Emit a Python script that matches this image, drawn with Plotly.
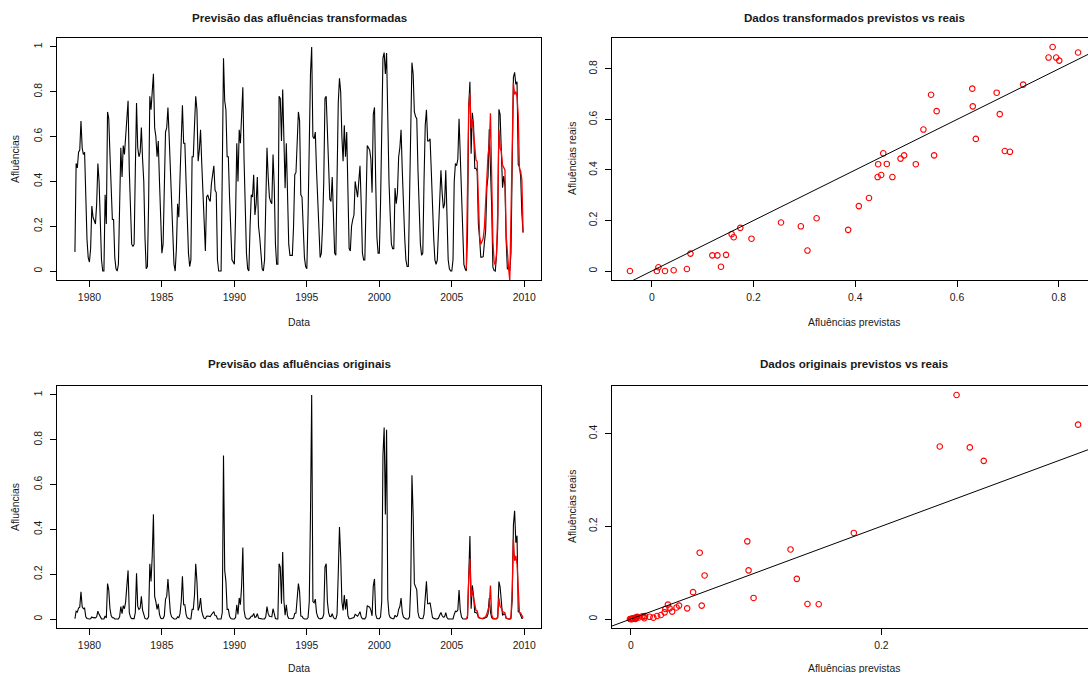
import numpy as np
import plotly.graph_objects as go

START_YEAR = 1979

# Monthly inflows on the transformed scale, Jan 1979 - Dec 2005 (one row per year)
afl_transf_hist = [
    0.085, 0.48, 0.46, 0.53, 0.54, 0.67, 0.55, 0.52, 0.53, 0.30, 0.14, 0.06,
    0.04, 0.10, 0.29, 0.24, 0.22, 0.21, 0.30, 0.48, 0.40, 0.24, 0.05, 0.00,
    0.00, 0.34, 0.21, 0.71, 0.68, 0.52, 0.36, 0.23, 0.23, 0.06, 0.01, 0.00,
    0.03, 0.30, 0.55, 0.42, 0.56, 0.52, 0.60, 0.70, 0.76, 0.45, 0.28, 0.12,
    0.11, 0.12, 0.45, 0.75, 0.55, 0.51, 0.53, 0.64, 0.50, 0.40, 0.15, 0.01,
    0.02, 0.30, 0.78, 0.72, 0.80, 0.88, 0.64, 0.60, 0.51, 0.58, 0.40, 0.20,
    0.08, 0.12, 0.35, 0.62, 0.64, 0.73, 0.60, 0.45, 0.30, 0.15, 0.03, 0.00,
    0.10, 0.30, 0.24, 0.42, 0.60, 0.74, 0.57, 0.57, 0.40, 0.22, 0.08, 0.02,
    0.05, 0.51, 0.51, 0.65, 0.78, 0.72, 0.49, 0.54, 0.63, 0.48, 0.35, 0.15,
    0.09, 0.33, 0.34, 0.32, 0.31, 0.39, 0.44, 0.47, 0.36, 0.35, 0.05, 0.00,
    0.00, 0.00, 0.45, 0.95, 0.76, 0.72, 0.51, 0.51, 0.33, 0.15, 0.05, 0.04,
    0.03, 0.25, 0.57, 0.40, 0.63, 0.57, 0.70, 0.82, 0.50, 0.28, 0.08, 0.01,
    0.00, 0.20, 0.34, 0.33, 0.43, 0.25, 0.30, 0.42, 0.20, 0.15, 0.05, 0.01,
    0.00, 0.05, 0.30, 0.55, 0.42, 0.33, 0.31, 0.30, 0.52, 0.38, 0.12, 0.03,
    0.03, 0.78, 0.77, 0.58, 0.81, 0.61, 0.37, 0.57, 0.35, 0.12, 0.07, 0.07,
    0.07, 0.20, 0.43, 0.44, 0.60, 0.71, 0.67, 0.34, 0.33, 0.15, 0.06, 0.02,
    0.01, 0.25, 0.60, 0.88, 1.00, 0.60, 0.59, 0.62, 0.45, 0.30, 0.12, 0.06,
    0.08, 0.20, 0.40, 0.77, 0.78, 0.60, 0.45, 0.32, 0.31, 0.42, 0.25, 0.08,
    0.07, 0.40, 0.75, 0.86, 0.80, 0.60, 0.49, 0.65, 0.51, 0.62, 0.35, 0.10,
    0.09, 0.20, 0.23, 0.25, 0.40, 0.36, 0.33, 0.40, 0.47, 0.30, 0.08, 0.05,
    0.05, 0.30, 0.56, 0.55, 0.54, 0.50, 0.35, 0.70, 0.73, 0.40, 0.15, 0.08,
    0.08, 0.30, 0.60, 0.95, 0.975, 0.88, 0.973, 0.62, 0.40, 0.25, 0.12, 0.10,
    0.10, 0.37, 0.30, 0.35, 0.51, 0.55, 0.63, 0.45, 0.28, 0.15, 0.05, 0.02,
    0.02, 0.30, 0.70, 0.93, 0.88, 0.71, 0.69, 0.68, 0.45, 0.25, 0.12, 0.07,
    0.08, 0.40, 0.65, 0.72, 0.58, 0.58, 0.59, 0.45, 0.25, 0.15, 0.05, 0.03,
    0.05, 0.20, 0.38, 0.45, 0.35, 0.28, 0.30, 0.45, 0.25, 0.05, 0.01, 0.00,
    0.00, 0.05, 0.40, 0.48, 0.47, 0.50, 0.68, 0.50, 0.30, 0.10, 0.03, 0.01,
]

# Monthly inflows on the original scale, Jan 1979 - Dec 2005
afl_orig_hist = [
    0.0013, 0.035, 0.031, 0.049, 0.053, 0.122, 0.056, 0.046, 0.049, 0.010, 0.0026, 0.0008,
    0.0005, 0.0016, 0.0093, 0.0063, 0.0054, 0.005, 0.010, 0.035, 0.021, 0.0063, 0.0007, 0.0,
    0.0, 0.0135, 0.005, 0.158, 0.130, 0.046, 0.0155, 0.0058, 0.0058, 0.0008, 0.0001, 0.0,
    0.0004, 0.010, 0.056, 0.024, 0.060, 0.046, 0.078, 0.148, 0.217, 0.029, 0.0087, 0.002,
    0.0018, 0.002, 0.029, 0.204, 0.056, 0.043, 0.049, 0.101, 0.040, 0.021, 0.0029, 0.0001,
    0.0002, 0.010, 0.247, 0.168, 0.281, 0.467, 0.101, 0.078, 0.043, 0.068, 0.021, 0.0045,
    0.0012, 0.002, 0.0145, 0.089, 0.101, 0.179, 0.078, 0.029, 0.010, 0.0029, 0.0004, 0.0,
    0.0016, 0.010, 0.0063, 0.024, 0.078, 0.191, 0.064, 0.064, 0.021, 0.0054, 0.0012, 0.0002,
    0.0007, 0.043, 0.043, 0.107, 0.247, 0.168, 0.038, 0.053, 0.094, 0.035, 0.0145, 0.0029,
    0.0014, 0.0126, 0.0135, 0.0117, 0.011, 0.019, 0.027, 0.033, 0.0155, 0.0145, 0.0007, 0.0,
    0.0, 0.0, 0.029, 0.730, 0.217, 0.168, 0.043, 0.043, 0.0126, 0.0029, 0.0007, 0.0005,
    0.0004, 0.0068, 0.064, 0.021, 0.094, 0.064, 0.148, 0.319, 0.040, 0.0087, 0.0012, 0.0001,
    0.0, 0.0045, 0.0135, 0.0126, 0.025, 0.0068, 0.010, 0.024, 0.0045, 0.0029, 0.0007, 0.0001,
    0.0, 0.0007, 0.010, 0.056, 0.024, 0.0126, 0.011, 0.010, 0.046, 0.018, 0.002, 0.0004,
    0.0004, 0.247, 0.232, 0.068, 0.299, 0.083, 0.017, 0.064, 0.0145, 0.002, 0.001, 0.001,
    0.001, 0.0045, 0.025, 0.027, 0.078, 0.158, 0.122, 0.0135, 0.0126, 0.0029, 0.0008, 0.0002,
    0.0001, 0.0068, 0.078, 0.467, 1.0, 0.078, 0.073, 0.089, 0.029, 0.010, 0.002, 0.0008,
    0.0012, 0.0045, 0.021, 0.232, 0.247, 0.078, 0.029, 0.0117, 0.011, 0.024, 0.0068, 0.0012,
    0.001, 0.021, 0.204, 0.411, 0.281, 0.078, 0.038, 0.107, 0.043, 0.089, 0.0145, 0.0016,
    0.0014, 0.0045, 0.0058, 0.0068, 0.021, 0.0155, 0.0126, 0.021, 0.033, 0.010, 0.0012, 0.0007,
    0.0007, 0.010, 0.060, 0.056, 0.053, 0.040, 0.0145, 0.148, 0.179, 0.021, 0.0029, 0.0012,
    0.0012, 0.010, 0.078, 0.730, 0.855, 0.467, 0.845, 0.089, 0.021, 0.0068, 0.002, 0.0016,
    0.0016, 0.017, 0.010, 0.0145, 0.043, 0.056, 0.094, 0.029, 0.0087, 0.0029, 0.0007, 0.0002,
    0.0002, 0.010, 0.148, 0.642, 0.467, 0.158, 0.139, 0.130, 0.029, 0.0068, 0.002, 0.001,
    0.0012, 0.021, 0.107, 0.168, 0.068, 0.068, 0.073, 0.029, 0.0068, 0.0029, 0.0007, 0.0004,
    0.0007, 0.0045, 0.018, 0.029, 0.0145, 0.0087, 0.010, 0.029, 0.0068, 0.0007, 0.0001, 0.0,
    0.0, 0.0007, 0.021, 0.035, 0.033, 0.040, 0.130, 0.040, 0.010, 0.0016, 0.0004, 0.0001,
]

# Test period Jan 2006 - Dec 2009: forecasts (previstas) and observed values (reais)
prev_transf = [
    0.010, 0.386, 0.730, 0.795, 0.637, 0.678, 0.631, 0.555, 0.496, 0.489, 0.324, 0.157,
    0.119, 0.129, 0.146, 0.196, 0.293, 0.444, 0.519, 0.560, 0.704, 0.427, 0.136, 0.043,
    0.026, 0.076, 0.254, 0.630, 0.549, 0.534, 0.473, 0.462, 0.451, 0.161, 0.069, 0.013,
    -0.043, 0.306, 0.684, 0.838, 0.788, 0.801, 0.780, 0.694, 0.455, 0.445, 0.407, 0.174,
]
real_transf = [
    0.000, 0.163, 0.738, 0.845, 0.523, 0.706, 0.652, 0.458, 0.458, 0.445, 0.209, 0.146,
    0.062, 0.062, 0.064, 0.128, 0.177, 0.372, 0.423, 0.633, 0.472, 0.289, 0.017, 0.003,
    0.000, 0.069, 0.192, 0.722, 0.698, 0.560, 0.372, 0.424, 0.380, 0.134, 0.008, 0.015,
    0.000, 0.081, 0.621, 0.865, 0.887, 0.833, 0.845, 0.475, 0.466, 0.423, 0.257, 0.171,
]
prev_orig = [
    0.0001, 0.015, 0.178, 0.2706, 0.098, 0.1275, 0.094, 0.0566, 0.0385, 0.0365, 0.0114, 0.0044,
    0.003, 0.0033, 0.004, 0.0064, 0.0103, 0.024, 0.045, 0.0589, 0.150, 0.021, 0.0036, 0.0008,
    0.0005, 0.0017, 0.0092, 0.093, 0.055, 0.0497, 0.033, 0.031, 0.0276, 0.0046, 0.0015, 0.0002,
    -0.0007, 0.0108, 0.1325, 0.357, 0.260, 0.2817, 0.2466, 0.141, 0.0296, 0.027, 0.018, 0.0052,
]
real_orig = [
    0.0, 0.0048, 0.1856, 0.370, 0.0455, 0.150, 0.105, 0.029, 0.029, 0.025, 0.0066, 0.004,
    0.0013, 0.0013, 0.0014, 0.0034, 0.0053, 0.0087, 0.023, 0.094, 0.0318, 0.0065, 0.0003, 0.0001,
    0.0, 0.0015, 0.006, 0.1675, 0.143, 0.058, 0.016, 0.023, 0.0217, 0.0036, 0.0002, 0.0002,
    0.0, 0.0018, 0.0866, 0.419, 0.483, 0.341, 0.372, 0.0325, 0.031, 0.0144, 0.003, 0.005,
]

year_ticks = [1980, 1985, 1990, 1995, 2000, 2005, 2010]
unit_ticks = [0, 0.2, 0.4, 0.6, 0.8, 1.0]
unit_labels = ["0", "0.2", "0.4", "0.6", "0.8", "1"]

# ---------------------------------------------------------------- geometry
W, H = 1088, 673
FONT = "Liberation Sans, Arial, Helvetica, sans-serif"
TXT = "#1a1a1a"
TICK_SIZE = 10.4
LAB_SIZE = 10.4
TITLE_SIZE = 11.6
BOX_L = (57, 541)      # left column plot box, px
BOX_R = (612, 1096)    # right column plot box (runs past the page edge)
ROW_T = (38, 280)      # top row plot box, px from top
ROW_B = (386, 628)     # bottom row plot box


def px_x(p):
    return p / W


def px_y(p):
    return 1 - p / H


def r_range(values, ext=0.04):
    lo, hi = float(np.min(values)), float(np.max(values))
    pad = (hi - lo) * ext
    return [lo - pad, hi + pad]


def visible_range(full):
    # part of the right-hand boxes that falls inside the page
    lo, hi = full
    frac = (W - BOX_R[0]) / (BOX_R[1] - BOX_R[0])
    return [lo, lo + (hi - lo) * frac]


serie_transf = np.array(afl_transf_hist + real_transf)
serie_orig = np.array(afl_orig_hist + real_orig)
tempo = START_YEAR + np.arange(len(serie_transf)) / 12.0
tempo_teste = tempo[len(afl_transf_hist):]

fig = go.Figure()

# top-left: transformed series with forecast
fig.add_trace(go.Scatter(x=tempo, y=serie_transf, mode="lines",
                         line=dict(color="black", width=1.1), xaxis="x", yaxis="y"))
fig.add_trace(go.Scatter(x=tempo_teste, y=prev_transf, mode="lines",
                         line=dict(color="#ff0000", width=1.3), xaxis="x", yaxis="y"))

# bottom-left: original series with forecast
fig.add_trace(go.Scatter(x=tempo, y=serie_orig, mode="lines",
                         line=dict(color="black", width=1.1), xaxis="x3", yaxis="y3"))
fig.add_trace(go.Scatter(x=tempo_teste, y=prev_orig, mode="lines",
                         line=dict(color="#ff0000", width=1.3), xaxis="x3", yaxis="y3"))

marker_style = dict(symbol="circle-open", size=5.5, color="#ff0000",
                    line=dict(width=1.1, color="#ff0000"))

# top-right: predicted vs observed (transformed)
xr2_full = r_range(prev_transf)
yr2 = r_range(real_transf)
fig.add_trace(go.Scatter(x=prev_transf, y=real_transf, mode="markers",
                         marker=marker_style, xaxis="x2", yaxis="y2"))
fig.add_trace(go.Scatter(x=xr2_full, y=xr2_full, mode="lines",
                         line=dict(color="black", width=1), xaxis="x2", yaxis="y2"))

# bottom-right: predicted vs observed (original)
xr4_full = r_range(prev_orig)
yr4 = r_range(real_orig)
fig.add_trace(go.Scatter(x=prev_orig, y=real_orig, mode="markers",
                         marker=marker_style, xaxis="x4", yaxis="y4"))
fig.add_trace(go.Scatter(x=xr4_full, y=xr4_full, mode="lines",
                         line=dict(color="black", width=1), xaxis="x4", yaxis="y4"))


def axis(domain, rng, tickvals, ticktext, mirror=True, vertical=False, anchor=None):
    d = dict(domain=domain, range=rng, tickvals=tickvals, ticktext=ticktext,
             showline=True, mirror=mirror, linecolor="black", linewidth=1,
             ticks="outside", ticklen=6, tickwidth=1, tickcolor="black",
             showgrid=False, zeroline=False, fixedrange=True,
             tickfont=dict(family=FONT, size=TICK_SIZE, color=TXT), anchor=anchor)
    if vertical:
        d["tickangle"] = -90
        d["ticklabelstandoff"] = 4
    else:
        d["ticklabelstandoff"] = 2
    return d


dom_l = [px_x(BOX_L[0]), px_x(BOX_L[1])]
dom_r = [px_x(BOX_R[0]), 1.0]
dom_t = [px_y(ROW_T[1]), px_y(ROW_T[0])]
dom_b = [px_y(ROW_B[1]), px_y(ROW_B[0])]

xr_time = r_range(tempo)
yr1 = r_range(serie_transf)
yr3 = r_range(serie_orig)

fig.update_layout(
    width=W, height=H, autosize=False,
    margin=dict(l=0, r=0, t=0, b=0),
    paper_bgcolor="white", plot_bgcolor="white",
    showlegend=False,
    xaxis=axis(dom_l, xr_time, year_ticks, [str(v) for v in year_ticks], anchor="y"),
    yaxis=axis(dom_t, yr1, unit_ticks, unit_labels, vertical=True, anchor="x"),
    xaxis2=axis(dom_r, visible_range(xr2_full), unit_ticks[:5], unit_labels[:5], anchor="y2"),
    yaxis2=axis(dom_t, yr2, unit_ticks[:5], unit_labels[:5], mirror=False, vertical=True, anchor="x2"),
    xaxis3=axis(dom_l, xr_time, year_ticks, [str(v) for v in year_ticks], anchor="y3"),
    yaxis3=axis(dom_b, yr3, unit_ticks, unit_labels, vertical=True, anchor="x3"),
    xaxis4=axis(dom_r, visible_range(xr4_full), [0, 0.2, 0.4], ["0", "0.2", "0.4"], anchor="y4"),
    yaxis4=axis(dom_b, yr4, [0, 0.2, 0.4], ["0", "0.2", "0.4"], mirror=False, vertical=True, anchor="x4"),
)


def label(text, x, y, size=LAB_SIZE, bold=False, angle=0):
    fig.add_annotation(text=f"<b>{text}</b>" if bold else text,
                       x=px_x(x), y=px_y(y), xref="paper", yref="paper",
                       xanchor="center", yanchor="middle", showarrow=False,
                       textangle=angle, font=dict(family=FONT, size=size, color=TXT))


cx_l = (BOX_L[0] + BOX_L[1]) / 2
cx_r = (BOX_R[0] + BOX_R[1]) / 2
cy_t = (ROW_T[0] + ROW_T[1]) / 2
cy_b = (ROW_B[0] + ROW_B[1]) / 2

label("Previsão das afluências transformadas", cx_l, 17, size=TITLE_SIZE, bold=True)
label("Dados transformados previstos vs reais", cx_r, 17, size=TITLE_SIZE, bold=True)
label("Previsão das afluências originais", cx_l, 363, size=TITLE_SIZE, bold=True)
label("Dados originais previstos vs reais", cx_r, 363, size=TITLE_SIZE, bold=True)

label("Data", cx_l, 322)
label("Afluências previstas", cx_r, 322)
label("Data", cx_l, 668)
label("Afluências previstas", cx_r, 668)

label("Afluências", 15, cy_t, angle=-90)
label("Afluências reais", 572, cy_t, angle=-90)
label("Afluências", 15, cy_b, angle=-90)
label("Afluências reais", 572, cy_b, angle=-90)

fig.write_html("out.html")
